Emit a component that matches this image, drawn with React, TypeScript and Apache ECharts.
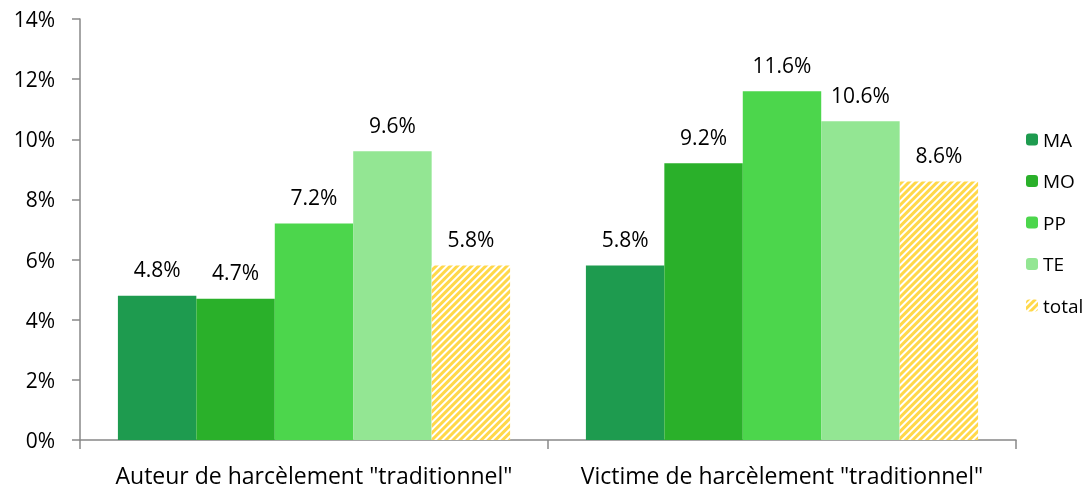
import React, { useEffect, useRef } from "react";
import * as echarts from "echarts";

const categories = ['Auteur de harcèlement "traditionnel"', 'Victime de harcèlement "traditionnel"'];
const seriesNames = ["MA", "MO", "PP", "TE", "total"];
const MA = [4.8, 5.8];
const MO = [4.7, 9.2];
const PP = [7.2, 11.6];
const TE = [9.6, 10.6];
const total = [5.8, 8.6];
const colors = ["#1e9b4f", "#2ab02a", "#4cd64c", "#93e693", "#ffffff"];

const FONT = "'Open Sans', 'Noto Sans', sans-serif";

export default function App() {
  const ref = useRef<HTMLDivElement>(null);
  useEffect(() => {
    const chart = echarts.init(ref.current!, null, { renderer: "svg" });
    const values = [MA, MO, PP, TE, total];
    const series = seriesNames.map((name, i) => ({
      name,
      type: "bar",
      data: values[i],
      barGap: "0%",
      barCategoryGap: "16.2%",
      itemStyle: {
        color: colors[i],
        decal:
          name === "total"
            ? {
                symbol: "rect",
                symbolSize: 1,
                dashArrayX: [1, 0],
                dashArrayY: [2.6, 2],
                rotation: -Math.PI / 4,
                color: "#ffd84a",
                backgroundColor: "#ffffff",
              }
            : "none",
      },
      label: {
        show: true,
        position: "top",
        distance: 16,
        formatter: (p: any) => p.value.toFixed(1) + "%",
        fontFamily: FONT,
        fontSize: 21,
        color: "#000",
      },
    }));
    chart.setOption({
      animation: false,
      aria: { enabled: false, decal: { show: false } },
      grid: { left: 80, right: 71, top: 19, bottom: 49 },
      legend: {
        orient: "vertical",
        left: 1021,
        top: 125,
        itemGap: 22.5,
        itemWidth: 12,
        itemHeight: 12,
        itemTextGap: 6,
        data: seriesNames,
        textStyle: { fontFamily: FONT, fontSize: 19, color: "#000" },
      },
      xAxis: {
        type: "category",
        data: categories,
        axisLine: { lineStyle: { color: "#888888", width: 1.5 } },
        axisTick: { show: true, length: 9, lineStyle: { color: "#888888", width: 1.5 } },
        axisLabel: { interval: 0, fontFamily: FONT, fontSize: 23, color: "#000", margin: 23 },
      },
      yAxis: {
        type: "value",
        min: 0,
        max: 14,
        interval: 2,
        splitLine: { show: false },
        axisLine: { show: true, lineStyle: { color: "#888888", width: 1.5 } },
        axisTick: { show: true, length: 8, lineStyle: { color: "#888888", width: 1.5 } },
        axisLabel: {
          formatter: (v: number) => v + "%",
          fontFamily: FONT,
          fontSize: 21,
          color: "#000",
          margin: 25,
        },
      },
      series,
    } as any);
    return () => chart.dispose();
  }, []);
  return (
    <div
      ref={ref}
      style={{ position: "fixed", left: 0, top: 0, width: 1087, height: 489 }}
    />
  );
}
